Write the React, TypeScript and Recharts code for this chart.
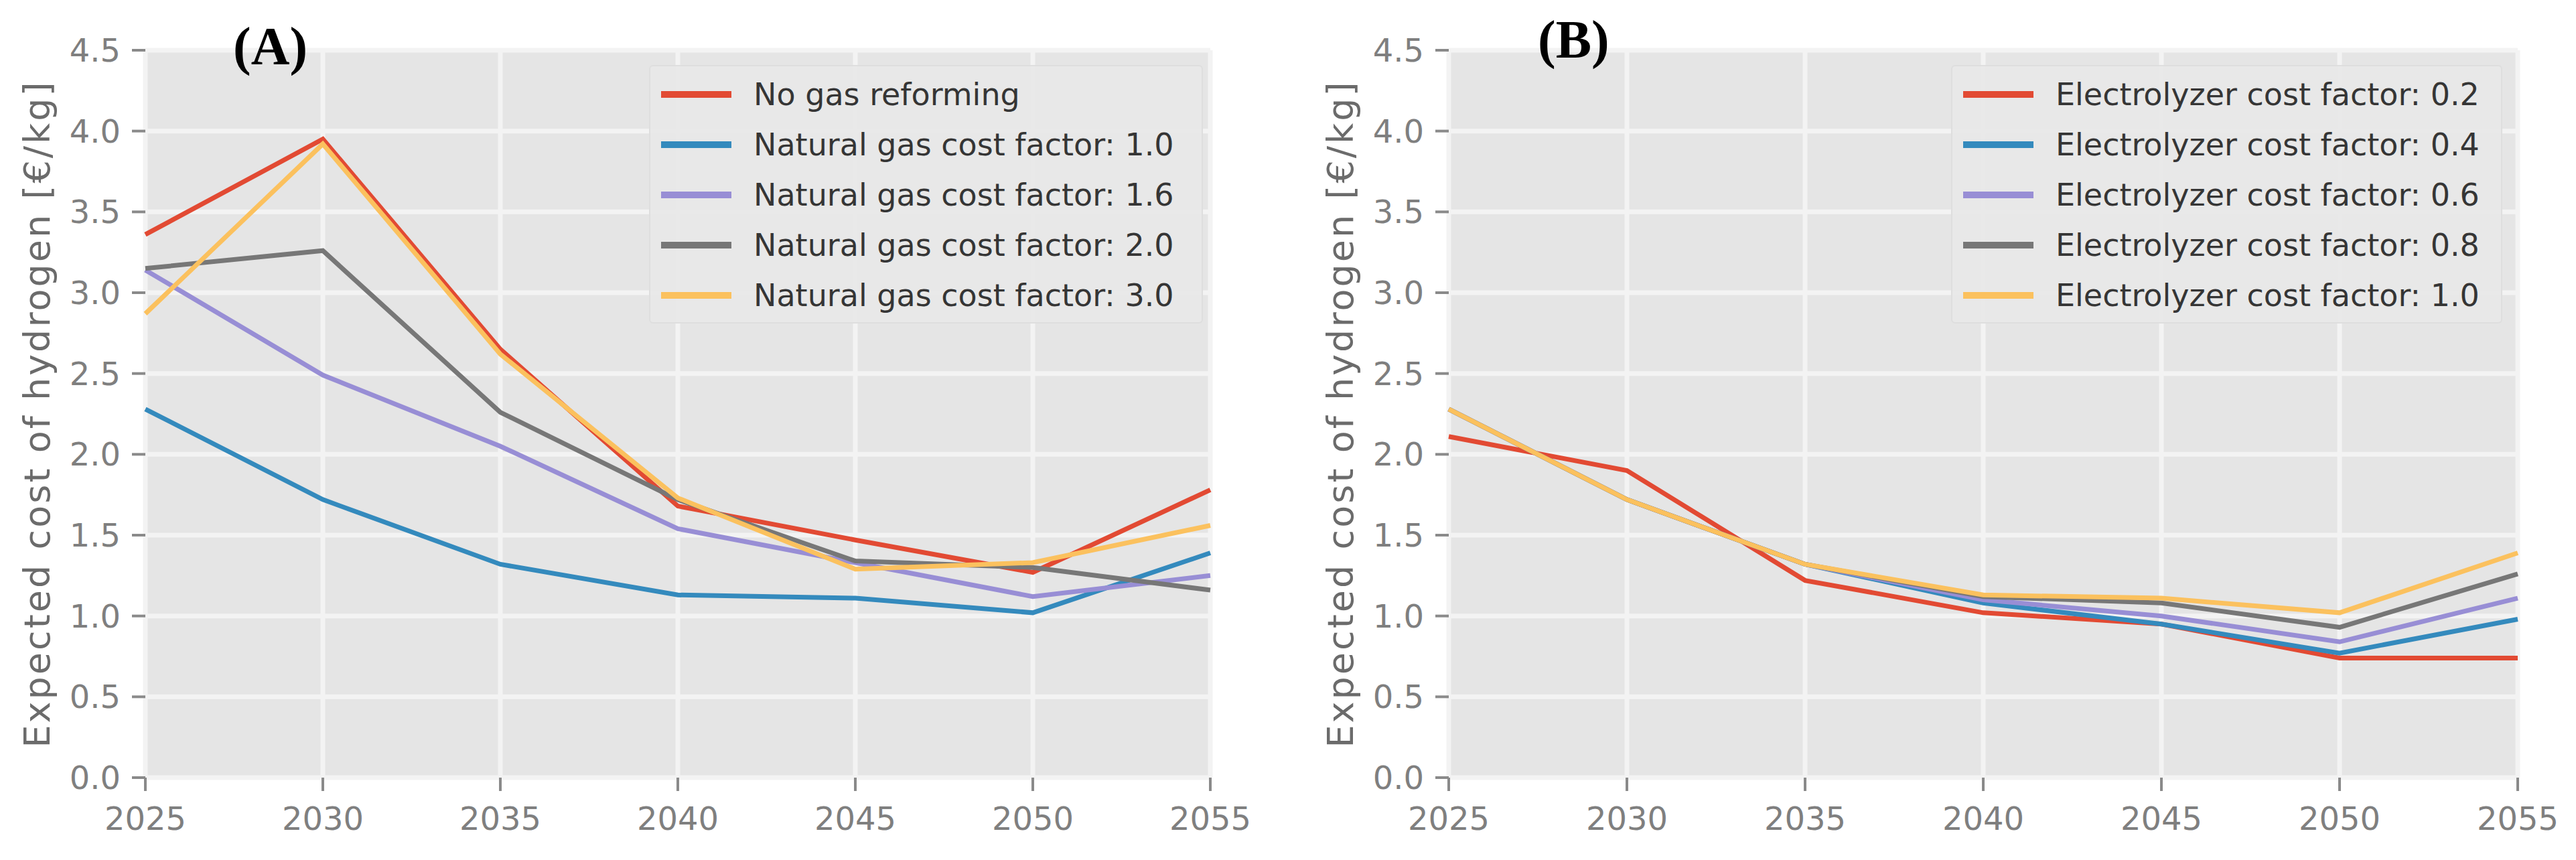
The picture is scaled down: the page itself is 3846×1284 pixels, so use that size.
import { LineChart, Line, XAxis, YAxis, CartesianGrid, Legend, Label } from 'recharts';

const years = [2025, 2030, 2035, 2040, 2045, 2050, 2055];
const yTicks = [0, 0.5, 1, 1.5, 2, 2.5, 3, 3.5, 4, 4.5];
const colors = ['#E24A33', '#348ABD', '#988ED5', '#777777', '#FBC15E'];

// panel A: natural gas price scenarios
const namesA = [
  'No gas reforming',
  'Natural gas cost factor: 1.0',
  'Natural gas cost factor: 1.6',
  'Natural gas cost factor: 2.0',
  'Natural gas cost factor: 3.0',
];
const noGasReforming = [3.36, 3.95, 2.65, 1.68, 1.47, 1.27, 1.78];
const gasFactor10 = [2.28, 1.72, 1.32, 1.13, 1.11, 1.02, 1.39];
const gasFactor16 = [3.14, 2.49, 2.05, 1.54, 1.33, 1.12, 1.25];
const gasFactor20 = [3.15, 3.26, 2.26, 1.72, 1.34, 1.3, 1.16];
const gasFactor30 = [2.87, 3.92, 2.62, 1.73, 1.29, 1.33, 1.56];

// panel B: electrolyzer cost scenarios
const namesB = [
  'Electrolyzer cost factor: 0.2',
  'Electrolyzer cost factor: 0.4',
  'Electrolyzer cost factor: 0.6',
  'Electrolyzer cost factor: 0.8',
  'Electrolyzer cost factor: 1.0',
];
const elecFactor02 = [2.11, 1.9, 1.22, 1.02, 0.95, 0.74, 0.74];
const elecFactor04 = [2.28, 1.72, 1.32, 1.08, 0.95, 0.77, 0.98];
const elecFactor06 = [2.28, 1.72, 1.32, 1.1, 1.0, 0.84, 1.11];
const elecFactor08 = [2.28, 1.72, 1.32, 1.12, 1.08, 0.93, 1.26];
const elecFactor10 = [2.28, 1.72, 1.32, 1.13, 1.11, 1.02, 1.39];

const yTitle = 'Expected cost of hydrogen [€/kg]';

function makeRows(series: number[][]) {
  return years.map((year, i) => {
    const row: Record<string, number> = { year };
    series.forEach((s, k) => {
      row['s' + k] = s[i];
    });
    return row;
  });
}

const tickStyle = { fill: '#7f7f7f', fontSize: 48, fontFamily: 'DejaVu Sans' };

function LegendBox({ payload, names }: any) {
  // keep the series order, not the alphabetical one
  const items = [...(payload || [])].sort(
    (a: any, b: any) => names.indexOf(a.value) - names.indexOf(b.value)
  );
  return (
    <div
      style={{
        width: '100%',
        height: '100%',
        boxSizing: 'border-box',
        background: 'rgba(232,232,232,0.9)',
        border: '2px solid #dedede',
        borderRadius: 6,
        paddingTop: 4,
      }}
    >
      {items.map((p: any) => (
        <div key={p.value} style={{ display: 'flex', alignItems: 'center', height: 75 }}>
          <div style={{ marginLeft: 16, width: 105, height: 10, background: p.color }} />
          <div
            style={{
              marginLeft: 33,
              fontFamily: 'DejaVu Sans',
              fontSize: 46,
              color: '#353535',
              whiteSpace: 'nowrap',
            }}
          >
            {p.value}
          </div>
        </div>
      ))}
    </div>
  );
}

function Panel({
  left,
  margin,
  names,
  series,
  titleX,
  legendLeft,
  legendWidth,
}: {
  left: number;
  margin: { top: number; right: number; bottom: number; left: number };
  names: string[];
  series: number[][];
  titleX: number;
  legendLeft: number;
  legendWidth: number;
}) {
  const data = makeRows(series);
  return (
    <div style={{ position: 'absolute', left, top: 0 }}>
      <LineChart width={1923} height={1284} data={data} margin={margin}>
        <CartesianGrid fill="#E5E5E5" fillOpacity={1} stroke="#F3F3F3" strokeWidth={7} />
        <XAxis
          dataKey="year"
          type="number"
          domain={[2025, 2055]}
          ticks={years}
          height={80}
          axisLine={false}
          tickSize={20}
          tickMargin={24}
          tickLine={{ stroke: '#8a8a8a', strokeWidth: 4 }}
          tick={tickStyle}
        />
        <YAxis
          type="number"
          domain={[0, 4.5]}
          ticks={yTicks}
          width={140}
          axisLine={false}
          tickSize={20}
          tickMargin={17}
          tickLine={{ stroke: '#8a8a8a', strokeWidth: 4 }}
          tick={tickStyle}
          tickFormatter={(v: number) => v.toFixed(1)}
        >
          <Label
            content={(props: any) => {
              const vb = props.viewBox || {};
              const cy = vb.y + vb.height / 2;
              return (
                <text
                  x={titleX}
                  y={cy}
                  transform={`rotate(-90, ${titleX}, ${cy})`}
                  textAnchor="middle"
                  dominantBaseline="central"
                  fill="#6b6b6b"
                  fontSize={54}
                  letterSpacing={3}
                  fontFamily="DejaVu Sans"
                >
                  {yTitle}
                </text>
              );
            }}
          />
        </YAxis>
        <Legend
          layout="vertical"
          align="center"
          verticalAlign="middle"
          content={<LegendBox names={names} />}
          wrapperStyle={{ left: legendLeft, top: 97, width: legendWidth, height: 386, margin: 0 }}
        />
        {names.map((name, k) => (
          <Line
            key={name}
            type="linear"
            dataKey={'s' + k}
            name={name}
            stroke={colors[k]}
            strokeWidth={7}
            dot={false}
            isAnimationActive={false}
          />
        ))}
      </LineChart>
    </div>
  );
}

export default function App() {
  return (
    <div
      style={{
        position: 'absolute',
        left: 0,
        top: 0,
        width: 3846,
        height: 1284,
        background: '#ffffff',
        overflow: 'hidden',
      }}
    >
      <Panel
        left={0}
        margin={{ top: 75, right: 116, bottom: 43, left: 77 }}
        names={namesA}
        series={[noGasReforming, gasFactor10, gasFactor16, gasFactor20, gasFactor30]}
        titleX={55}
        legendLeft={969}
        legendWidth={827}
      />
      <Panel
        left={1923}
        margin={{ top: 75, right: 87, bottom: 43, left: 100 }}
        names={namesB}
        series={[elecFactor02, elecFactor04, elecFactor06, elecFactor08, elecFactor10]}
        titleX={78}
        legendLeft={990}
        legendWidth={823}
      />
      <svg
        width={3846}
        height={1284}
        style={{ position: 'absolute', left: 0, top: 0, pointerEvents: 'none' }}
      >
        <text x={348} y={96} fontFamily="Liberation Serif" fontWeight="bold" fontSize={80} fill="#000">
          (A)
        </text>
        <text x={2296} y={86} fontFamily="Liberation Serif" fontWeight="bold" fontSize={80} fill="#000">
          (B)
        </text>
      </svg>
    </div>
  );
}
